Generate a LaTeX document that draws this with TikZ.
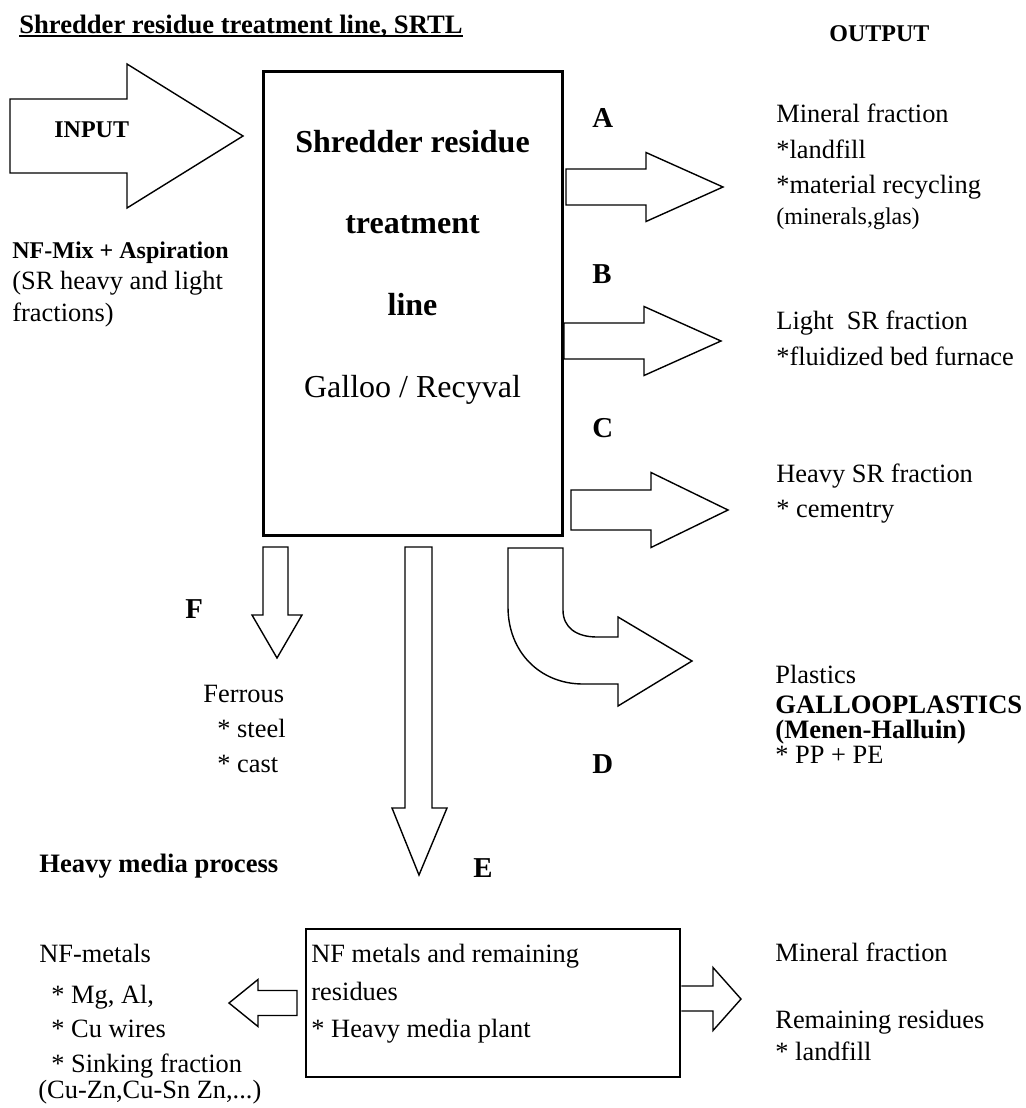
\documentclass[tikz,border=0pt]{standalone}
\usepackage{fontspec}
\setmainfont{Liberation Serif}
\usetikzlibrary{positioning}
\tikzset{
txt/.style={inner sep=0pt, anchor=base west, font=\fontsize{13.2}{16}\selectfont},
bold/.style={txt, font=\fontsize{13.3}{16}\selectfont\bfseries},
small bold/.style={txt, font=\fontsize{12}{14}\selectfont\bfseries},
lbl/.style={txt, font=\fontsize{14.4}{17}\selectfont\bfseries},
blk/.style={draw, line width=0.7pt, line join=miter},
frame/.style={draw, line width=1.5pt, inner sep=0pt},
}

\begin{document}
\begin{tikzpicture}[x=0.5pt, y=-0.5pt]
\useasboundingbox (0,0) rectangle (1025,1108);

% headings
\node[bold] (title) at (19,33) {Shredder residue treatment line, SRTL};
\draw[line width=1pt] ([yshift=-1.5pt]title.base west) -- ([yshift=-1.5pt]title.base east);
\node[small bold] (output) at (829,41) {OUTPUT};

% main box
\node[frame, minimum width=149.5pt, minimum height=232pt] (srtl) at (412.5,303) {};
\node[txt, anchor=base, font=\fontsize{16}{18}\selectfont\bfseries] (s1) at (412.5,152) {Shredder residue};
\node[txt, anchor=base, font=\fontsize{16}{18}\selectfont\bfseries] (s2) at (412.5,233) {treatment};
\node[txt, anchor=base, font=\fontsize{16}{18}\selectfont\bfseries] (s3) at (412.5,315) {line};
\node[txt, anchor=base, font=\fontsize{16}{18}\selectfont] (s4) at (412.5,397) {Galloo / Recyval};

% input
\draw[blk] (10,99) -- (127,99) -- (127,64) -- (243,136) -- (127,208) -- (127,173) -- (10,173) -- cycle;
\node[small bold] (input) at (54,137) {INPUT};
\node[small bold] (mix) at (12,258) {NF-Mix + Aspiration};
\node[txt] (sr1) at (12,289) {(SR heavy and light};
\node[txt] (sr2) at (12,321) {fractions)};

% outputs A, B, C
\foreach \x/\y/\b/\h in {566/187/18/34.5, 564/341/18/34.5, 571/510/20/37.5}
  \draw[blk] (\x,\y-\b) -- (\x+80,\y-\b) -- (\x+80,\y-\h) -- (\x+157,\y) -- (\x+80,\y+\h) -- (\x+80,\y+\b) -- (\x,\y+\b) -- cycle;
\node[lbl] (A) at (592,127) {A};
\node[lbl] (B) at (592,283) {B};
\node[lbl] (C) at (592,437) {C};

\foreach \t [count=\i] in {Mineral fraction, *landfill, *material recycling}
  \node[txt] (a\i) at (776,{122.7+35.3*(\i-1)}) {\t};
\node[txt, font=\fontsize{12}{14}\selectfont] (a4) at (776,224) {(minerals,glas)};
\node[txt] (b1) at (776,329) {Light\ \ SR fraction};
\node[txt] (b2) at (776,365) {*fluidized bed furnace};
\node[txt] (c1) at (776,482) {Heavy SR fraction};
\node[txt] (c2) at (776,517) {* cementry};

% output D
\draw[blk] (508,548) -- (508,607) .. controls (508,652) and (540,684) .. (583,684) -- (618,684) -- (618,706)
  -- (692,661) -- (618,617) -- (618,637) -- (597,637) .. controls (577,637) and (563,628) .. (563,610) -- (563,548) -- cycle;
\node[lbl] (D) at (592,773) {D};
\node[txt] (d1) at (775,683) {Plastics};
\node[bold] (d2) at (775,713) {GALLOOPLASTICS};
\node[bold] (d3) at (775,738) {(Menen-Halluin)};
\node[txt] (d4) at (775,763) {* PP + PE};

% output F
\draw[blk] (263,547) -- (263,615) -- (252,615) -- (277,658) -- (302,615) -- (288,615) -- (288,547) -- cycle;
\node[lbl] (F) at (185,618) {F};
\node[txt] (f1) at (203,702) {Ferrous};
\node[txt] (f2) at (217,737) {* steel};
\node[txt] (f3) at (217,772) {* cast};

% output E
\draw[blk] (405,547) -- (405,808) -- (392,808) -- (419,875) -- (447,808) -- (432,808) -- (432,547) -- cycle;
\node[lbl] (E) at (473,877) {E};
\node[bold] (hmp title) at (39,872) {Heavy media process};

% heavy media plant
\node[frame, line width=1.4pt, minimum width=187pt, minimum height=74pt] (hmp) at (493,1003) {};
\node[txt] (h1) at (311,962) {NF metals and remaining};
\node[txt] (h2) at (311,1000) {residues};
\node[txt] (h3) at (311,1037) {* Heavy media plant};

\draw[blk] (297,990.5) -- (258,990.5) -- (258,979.5) -- (229,1003) -- (258,1026.5) -- (258,1015.5) -- (297,1015.5) -- cycle;
\draw[blk] (hmp.east |- 0,986) -- (713,986) -- (713,967.5) -- (741,999) -- (713,1030.5) -- (713,1011) -- (hmp.east |- 0,1011);

\node[txt] (n1) at (39,962) {NF-metals};
\foreach \t [count=\i] in {{* Mg, Al,}, * Cu wires, * Sinking fraction}
  \node[txt] (n\i x) at (51,{1003+34.5*(\i-1)}) {\t};
\node[txt] (n5) at (38,1098) {(Cu-Zn,Cu-Sn Zn,...)};

\node[txt] (m1) at (775,961) {Mineral fraction};
\node[txt] (m2) at (775,1028) {Remaining residues};
\node[txt] (m3) at (775,1060) {* landfill};
\end{tikzpicture}
\end{document}
